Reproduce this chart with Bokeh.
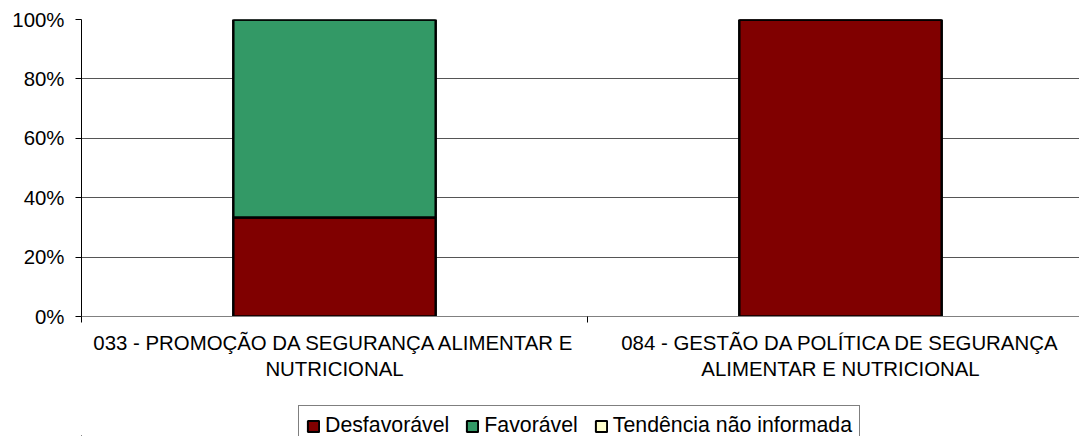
from bokeh.plotting import figure
from bokeh.models import (ColumnDataSource, FixedTicker, NumeralTickFormatter,
                          Legend, LegendItem, Range1d)
from bokeh.layouts import column
from bokeh.embed import file_html
from bokeh.resources import INLINE

categories = ["033 - PROMOÇÃO DA SEGURANÇA ALIMENTAR E\nNUTRICIONAL",
              "084 - GESTÃO DA POLÍTICA DE SEGURANÇA\nALIMENTAR E NUTRICIONAL"]
series_names = ["Desfavorável", "Favorável", "Tendência não informada"]
desfavoravel = [1/3, 1.0]
favoravel = [2/3, 0.0]
tendencia = [0.0, 0.0]
colors = ["#800000", "#339966", "#FFFFCC"]

xpos = [i + 0.5 for i in range(len(categories))]
source = ColumnDataSource(data=dict(x=xpos, d=desfavoravel, f=favoravel, t=tendencia))

FONT = "Liberation Sans"
FS = "20.4px"

p = figure(width=1079, height=400, output_backend="svg", toolbar_location=None,
           x_range=Range1d(0, 998/506), y_range=Range1d(0, 1),
           min_border_left=81, min_border_right=0, min_border_top=19,
           min_border_bottom=84)
p.outline_line_color = None
p.background_fill_color = "white"

renderers = p.vbar_stack(["d", "f", "t"], x="x", width=0.4, source=source,
                         fill_color=colors, line_color="black", line_width=2.5)

# y axis
p.yaxis.ticker = FixedTicker(ticks=[0, 0.2, 0.4, 0.6, 0.8, 1.0])
p.yaxis.formatter = NumeralTickFormatter(format="0%")
p.yaxis.major_label_text_font = FONT
p.yaxis.major_label_text_font_size = FS
p.yaxis.major_label_text_color = "black"
p.yaxis.axis_line_color = "black"
p.yaxis.major_tick_line_color = "black"
p.yaxis.major_tick_out = 6
p.yaxis.major_tick_in = 0
p.yaxis.minor_tick_line_color = None
p.yaxis.major_label_standoff = 11

# x axis
p.xaxis.ticker = FixedTicker(ticks=xpos, minor_ticks=[0, 1])
p.xaxis.major_label_overrides = {x: c for x, c in zip(xpos, categories)}
p.xaxis.major_label_text_font = FONT
p.xaxis.major_label_text_font_size = FS
p.xaxis.major_label_text_color = "black"
p.xaxis.axis_line_color = "#808080"
p.xaxis.major_tick_line_color = None
p.xaxis.minor_tick_line_color = "black"
p.xaxis.minor_tick_out = 6
p.xaxis.minor_tick_in = 0
p.xaxis.major_label_standoff = 9

p.xgrid.grid_line_color = None
p.ygrid.grid_line_color = "#555555"
p.ygrid.ticker = FixedTicker(ticks=[0.2, 0.4, 0.6, 0.8, 1.0])

# legend strip below the chart (swatch renderers lie far outside its visible range)
p2 = figure(width=1079, height=36, output_backend="svg", toolbar_location=None,
            x_axis_location=None, y_axis_location=None,
            min_border_left=0, min_border_right=0, min_border_top=0, min_border_bottom=0,
            x_range=Range1d(0, 1), y_range=Range1d(0, 1))
p2.outline_line_color = None
p2.xgrid.grid_line_color = None
p2.ygrid.grid_line_color = None
swatches = [p2.vbar(x=[-10], bottom=[-10], top=[-9], width=0.1, fill_color=c,
                    line_color="black", line_width=2)
            for c in colors]

legend = Legend(items=[LegendItem(label=n, renderers=[r]) for n, r in zip(series_names, swatches)],
                orientation="horizontal", location=(217, -10),
                label_text_font=FONT, label_text_font_size="21.3px",
                label_text_color="black", glyph_width=14, glyph_height=14,
                label_standoff=5, spacing=16, padding=7, margin=0,
                label_height=20, border_line_color="black", border_line_width=1,
                background_fill_alpha=1.0)
p2.add_layout(legend, "center")

layout = column(p, p2, spacing=0)
open("out.html", "w").write(file_html(layout, INLINE))
